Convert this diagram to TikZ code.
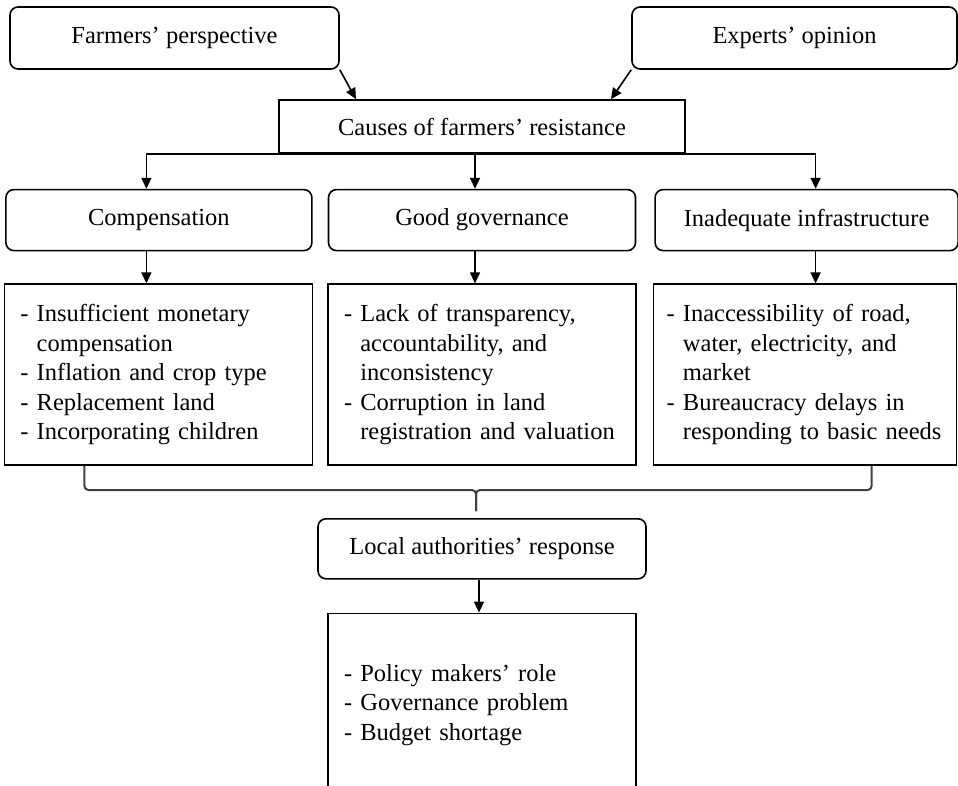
\documentclass[tikz,border=0pt]{standalone}
\usepackage{fontspec}
\setmainfont{Liberation Serif}
\usetikzlibrary{arrows.meta, positioning}
\newcommand{\contline}{\phantom{-~}}

\begin{document}
\begin{tikzpicture}[
    x=1pt, y=-1pt,
    every node/.style={
        font=\fontsize{24.5pt}{29.6pt}\selectfont
    },
    head/.style={draw, line width=1.6pt, rounded corners=8pt, align=center},
    cause/.style={draw, line width=1.6pt, align=center},
    detail/.style={draw, line width=1.6pt, align=left, inner xsep=16pt, minimum height=181pt},
    arrow/.style={-{Triangle[length=11pt, width=10pt]}, line width=1.6pt},
    brace/.style={line width=2pt, black!75, rounded corners=4pt}
]
\clip (0,0) rectangle (958,786);

\node[head, minimum width=329pt, minimum height=62pt] (farmers) at (174.5,38) {Farmers’ perspective};
\node[head, minimum width=325pt, minimum height=62pt] (experts) at (794.5,38) {Experts’ opinion};

\node[cause, minimum width=406pt, minimum height=53pt] (causes) at (482,126.5) {Causes of farmers’ resistance};

\node[head, minimum width=307pt, minimum height=61pt, below=35pt of causes] (gov) {Good governance};
\node[head, minimum width=306pt, minimum height=61pt, left=15pt of gov] (comp) {Compensation};
\node[head, minimum width=303pt, minimum height=61pt, right=18pt of gov] (infra) {Inadequate infrastructure};

\node[detail, text width=276pt, below=32pt of gov] (govlist) {
    - Lack of transparency,\\
    \contline accountability, and\\
    \contline inconsistency\\
    - Corruption in land\\
    \contline registration and valuation
};

\node[detail, text width=276pt, left=14pt of govlist] (complist) {
    - Insufficient monetary\\
    \contline compensation\\
    - Inflation and crop type\\
    - Replacement land\\
    - Incorporating children
};

\node[detail, inner xsep=13pt, text width=277pt, right=16pt of govlist] (infralist) {
    - Inaccessibility of road,\\
    \contline water, electricity, and\\
    \contline market\\
    - Bureaucracy delays in\\
    \contline responding to basic needs
};

\node[head, minimum width=328pt, minimum height=60pt, below=52pt of govlist] (local) {Local authorities’ response};

\node[detail, text width=276pt, minimum height=183pt, below=33pt of local] (resp) {
    - Policy makers’ role\\
    - Governance problem\\
    - Budget shortage
};

\coordinate (tip) at ([xshift=-6pt, yshift=7pt]local.north);

\draw[arrow] (farmers.south east) -- ([xshift=-126pt]causes.north);
\draw[arrow] (experts.south west) -- ([xshift=129pt]causes.north);
\draw[arrow] (causes.south) -| ([xshift=-12.5pt]comp.north);
\draw[arrow] (causes.south) -| ([xshift=-7pt]gov.north);
\draw[arrow] (causes.south) -| ([xshift=9pt]infra.north);
\draw[arrow] ([xshift=-12.5pt]comp.south) -- ([xshift=-12pt]complist.north);
\draw[arrow] ([xshift=-7pt]gov.south) -- ([xshift=-7pt]govlist.north);
\draw[arrow] ([xshift=9pt]infra.south) -- ([xshift=10.5pt]infralist.north);
\draw[brace] ([xshift=-74pt]complist.south) |- ([yshift=21pt]tip) -- (tip);
\draw[brace] ([xshift=66.5pt]infralist.south) |- ([yshift=21pt]tip) -- (tip);
\draw[arrow] ([xshift=-3pt]local.south) -- ([xshift=-3pt]resp.north);

\end{tikzpicture}
\end{document}
